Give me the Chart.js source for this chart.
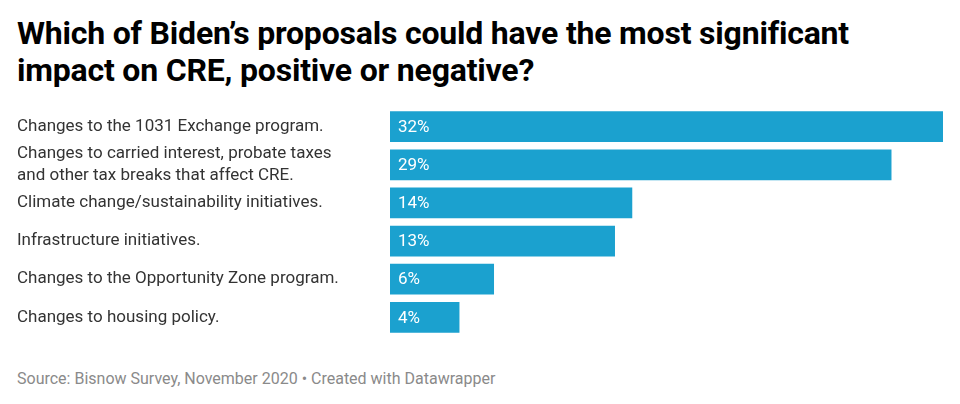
<!DOCTYPE html>
<html>
<head>
<meta charset="utf-8">
<script src="https://cdn.jsdelivr.net/npm/chart.js@4"></script>
<style>
  body { margin: 0; padding: 0 17px; font-family: Roboto, sans-serif; background: #fff; width: 926px; }
  h1 { font-size: 32px; font-weight: 700; line-height: 37px; margin: 15px 0 0 0; color: #000; letter-spacing: -0.2px; width: 900px; }
  #wrap { position: relative; width: 926px; height: 250px; margin-top: 8px; }
  .foot { font-size: 16px; color: #8a8a8a; margin-top: 22px; }
</style>
</head>
<body>
<h1>Which of Biden’s proposals could have the most significant impact on CRE, positive or negative?</h1>
<div id="wrap"><canvas id="c"></canvas></div>
<div class="foot">Source: Bisnow Survey, November 2020 • Created with Datawrapper</div>
<script>
var categories = [
  "Changes to the 1031 Exchange program.",
  ["Changes to carried interest, probate taxes", "and other tax breaks that affect CRE."],
  "Climate change/sustainability initiatives.",
  "Infrastructure initiatives.",
  "Changes to the Opportunity Zone program.",
  "Changes to housing policy."
];
var values = [32, 29, 14, 13, 6, 4];

var valueLabels = {
  id: 'valueLabels',
  afterDatasetsDraw: function (chart) {
    var ctx = chart.ctx;
    var meta = chart.getDatasetMeta(0);
    ctx.save();
    ctx.font = '17px Roboto';
    ctx.fillStyle = '#fff';
    ctx.textBaseline = 'middle';
    meta.data.forEach(function (bar, i) {
      ctx.fillText(values[i] + '%', bar.base + 8, bar.y + 1);
    });
    ctx.restore();
  }
};

new Chart(document.getElementById('c'), {
  type: 'bar',
  data: {
    labels: categories,
    datasets: [{ data: values, backgroundColor: '#1ba1cf', barThickness: 30 }]
  },
  options: {
    indexAxis: 'y',
    responsive: true,
    maintainAspectRatio: false,
    animation: false,
    layout: { padding: 0 },
    plugins: { legend: { display: false }, tooltip: { enabled: false } },
    scales: {
      x: { display: false, min: 0, max: 32 },
      y: {
        grid: { display: false },
        border: { display: false },
        afterFit: function (s) { s.width = 373; },
        ticks: {
          autoSkip: false,
          crossAlign: 'far',
          padding: 0,
          color: '#333',
          font: { family: 'Roboto', size: 17, lineHeight: 1.25 }
        }
      }
    }
  },
  plugins: [valueLabels]
});
</script>
</body>
</html>
